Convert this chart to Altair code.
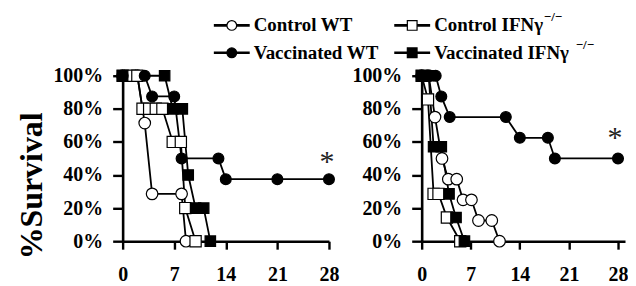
import altair as alt
import pandas as pd

FONT = "Liberation Serif"

series = ["Control WT", "Control IFNγ", "Vaccinated WT", "Vaccinated IFNγ"]
shapes = ["circle", "square", "circle", "square"]
fills = ["white", "white", "black", "black"]
sizes = [135, 110, 135, 110]

# ---- left panel (days, % survival) ----
l_cwt_day = [0, 2, 3, 4, 8, 8.6]
l_cwt_pct = [100, 100, 71.4, 28.6, 28.6, 0]
l_cifn_day = [0, 1, 2, 2.7, 3.6, 4.5, 5.4, 6.8, 7.9, 8.5, 9.9]
l_cifn_pct = [100, 100, 100, 80, 80, 80, 80, 60, 60, 20, 0]
l_vwt_day = [0, 3, 4, 7, 8, 13, 14, 21, 28]
l_vwt_pct = [100, 100, 87.5, 87.5, 50, 50, 37.5, 37.5, 37.5]
l_vifn_day = [0, 5.7, 6.8, 8.1, 8.9, 9.9, 11, 11.9]
l_vifn_pct = [100, 100, 80, 80, 40, 20, 20, 0]

# ---- right panel ----
r_cwt_day = [0, 1, 1.9, 2.9, 3.8, 5, 5.9, 7.1, 8.1, 10, 11.1]
r_cwt_pct = [100, 100, 75, 50, 37.5, 37.5, 25, 25, 12.5, 12.5, 0]
r_cifn_day = [0, 0.9, 1.7, 2.4, 3.6, 5.5]
r_cifn_pct = [100, 85.7, 28.6, 28.6, 14.3, 0]
r_vwt_day = [0, 2, 2.8, 4, 12, 14, 18, 19, 28]
r_vwt_pct = [100, 100, 87.5, 75, 75, 62.5, 62.5, 50, 50]
r_vifn_day = [0, 1, 1.7, 2.8, 3.9, 4.9, 6.1]
r_vifn_pct = [100, 100, 57.1, 57.1, 28.6, 14.3, 0]

star_left = {"day": 28, "pct": 37.5}
star_right = {"day": 28, "pct": 50}

x_ticks = [0, 7, 14, 21, 28]
y_ticks = [0, 20, 40, 60, 80, 100]


def panel_df(groups):
    rows = []
    for s, (days, pcts) in zip(series, groups):
        for i, (d, p) in enumerate(zip(days, pcts)):
            rows.append({"series": s, "day": d, "pct": p, "idx": i})
    return pd.DataFrame(rows)


left_df = panel_df([(l_cwt_day, l_cwt_pct), (l_cifn_day, l_cifn_pct),
                    (l_vwt_day, l_vwt_pct), (l_vifn_day, l_vifn_pct)])
right_df = panel_df([(r_cwt_day, r_cwt_pct), (r_cifn_day, r_cifn_pct),
                     (r_vwt_day, r_vwt_pct), (r_vifn_day, r_vifn_pct)])

shape_scale = alt.Scale(domain=series, range=shapes)
fill_scale = alt.Scale(domain=series, range=fills)
size_scale = alt.Scale(domain=series, range=sizes)


def make_panel(df, star, xmax, width, show_title, star_dy, star_dx):
    xs = alt.Scale(domain=[0, xmax], nice=False)
    ys = alt.Scale(domain=[0, 100], nice=False)
    xax = alt.Axis(values=x_ticks, title=None, tickSize=8, labelPadding=15,
                   labelOverlap=False)
    if show_title:
        yax = alt.Axis(values=y_ticks, labelExpr="datum.value + '%'", title="%Survival",
                       titleFont=FONT, titleFontSize=32, titleFontWeight="bold",
                       titleAngle=270, titleX=-81, titleY=110, titleBaseline="alphabetic",
                       titleAlign="center", titleColor="black", tickSize=10, labelPadding=10,
                       labelOverlap=False, tickCount=6)
    else:
        yax = alt.Axis(values=y_ticks, labelExpr="datum.value + '%'", title=None,
                       tickSize=10, labelPadding=10, labelOverlap=False, tickCount=6)
    X = alt.X("day:Q", scale=xs, axis=xax)
    Y = alt.Y("pct:Q", scale=ys, axis=yax)
    base = alt.Chart(df)
    lines = base.mark_line(color="black", strokeWidth=1.8).encode(
        x=X, y=Y, detail="series:N", order="idx:Q",
    )
    pts = base.mark_point(filled=True, stroke="black", strokeWidth=1.2, opacity=1).encode(
        x=X, y=Y,
        shape=alt.Shape("series:N", scale=shape_scale, legend=None),
        fill=alt.Fill("series:N", scale=fill_scale, legend=None),
        size=alt.Size("series:N", scale=size_scale, legend=None),
    )
    st = alt.Chart(pd.DataFrame([star])).mark_text(
        text="*", font=FONT, fontSize=30, color="#222", baseline="alphabetic",
        dy=star_dy, dx=star_dx
    ).encode(x=X, y=Y)
    return alt.layer(lines, pts, st).properties(width=width, height=166)


left = make_panel(left_df, star_left, 28, 207, True, -8, -2)
right = make_panel(right_df, star_right, 29, 204, False, -12, -3)

# ---- legend ----
leg_df = pd.DataFrame({
    "series": series,
    "col": [i % 2 for i in range(len(series))],
    "row": [i // 2 for i in range(len(series))],
})
lx = alt.Scale(domain=[0, 1], range=[109.5, 290.5])
ly = alt.Scale(domain=[0, 1], range=[13, 40.5])
LX = alt.X("col:Q", scale=lx, axis=None)
LY = alt.Y("row:Q", scale=ly, axis=None)
lbase = alt.Chart(leg_df)
lrule = lbase.mark_rule(color="black", strokeWidth=2.6, xOffset=-18, x2Offset=18).encode(
    x=LX, x2="col:Q", y=LY)
lpts = lbase.mark_point(filled=True, stroke="black", strokeWidth=1.2, opacity=1, size=95).encode(
    x=LX, y=LY,
    shape=alt.Shape("series:N", scale=shape_scale, legend=None),
    fill=alt.Fill("series:N", scale=fill_scale, legend=None))
ltext = lbase.mark_text(align="left", baseline="middle", dx=22, font=FONT, fontSize=19,
                        fontWeight="bold", color="black").encode(x=LX, y=LY, text="series:N")
sup1 = lbase.transform_filter(alt.datum.series == series[1]).mark_text(
    align="left", baseline="middle", dx=132, dy=-8, font=FONT, fontSize=13,
    fontWeight="bold", color="black", text="−/−").encode(x=LX, y=LY)
sup2 = lbase.transform_filter(alt.datum.series == series[3]).mark_text(
    align="left", baseline="middle", dx=164, dy=-8, font=FONT, fontSize=13,
    fontWeight="bold", color="black", text="−/−").encode(x=LX, y=LY)
legend = alt.layer(lrule, lpts, ltext, sup1, sup2).properties(width=490, height=56)

panels = alt.hconcat(left, right, spacing=93, bounds="flush")
chart = alt.vconcat(legend, panels, spacing=7.5, bounds="flush").properties(
    padding={"left": 8, "top": 3, "right": 0, "bottom": 0},
    background="white",
).configure_view(stroke=None).configure_axis(
    labelFont=FONT, labelFontSize=20, labelFontWeight="bold", labelColor="black",
    domainColor="black", domainWidth=2.6, tickColor="black", tickWidth=2.4,
    grid=False, labelFlush=False, labelOverlap=False,
)

chart.save("out.html", embed_options={"renderer": "svg", "actions": False})
